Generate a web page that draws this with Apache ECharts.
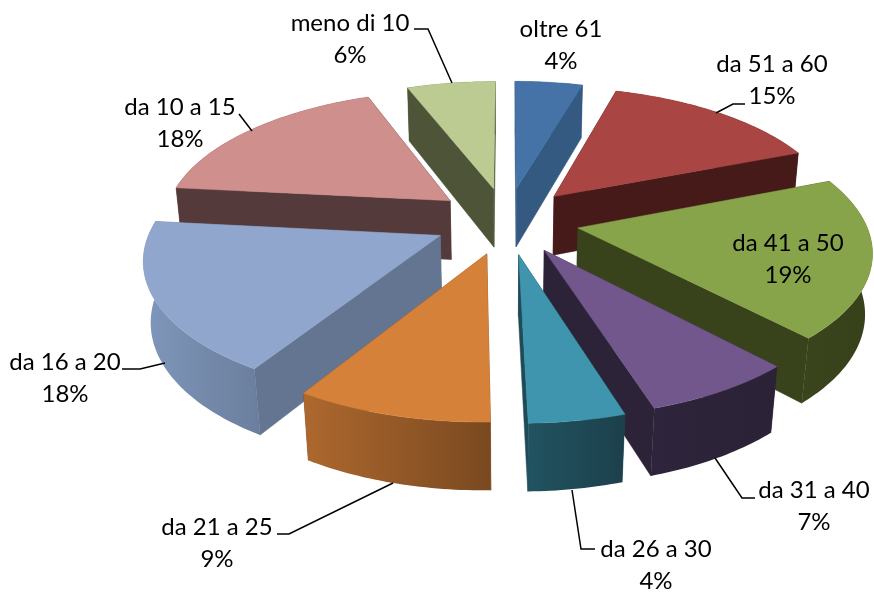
<!DOCTYPE html>
<html><head><meta charset="utf-8">
<style>html,body{margin:0;padding:0;background:#fff}#c{width:874px;height:594px}</style>
<script src="https://cdn.jsdelivr.net/npm/echarts@6/dist/echarts.min.js"></script>
</head><body><div id="c"></div>
<script>
// ---- data (slice sizes estimated from their drawn angles) ----
const categories = ['oltre 61','da 51 a 60','da 41 a 50','da 31 a 40','da 26 a 30','da 21 a 25','da 16 a 20','da 10 a 15','meno di 10'];
const percentages = [4.47,14.56,19.03,7.13,4.48,9.14,17.85,17.5,5.85];
// ---- styles ----
const topColors  = ['#4573a8','#a94543','#88a44a','#72578c','#4095ae','#d6813a','#90a6cc','#cf8f8d','#bbcb91'];
const wallColors = ['#345a82','#451a18','#38421b','#2c2339','#1f4b58','#7d4a20','#637590','#543a3b','#4d5438'];
const rimStops   = [['#345a82','#345a82'],['#451a18','#451a18'],['#3a451c','#36401a'],['#2e243b','#2b2237'],
                    ['#215360','#1c404c'],['#ad682e','#7a4920'],['#7f97bb','#6b7e9d'],['#543a3b','#543a3b'],['#4d5438','#4d5438']];
// ---- label layout ----
const labelX = [561,772,788,814,656,217,65,180,350];
const labelY = [45,80,259,506,565,543,378,123,39];
const leaders = [
  null,
  [[745,104],[733,104],[716,113]],
  null,
  [[755,498],[742,498],[715,458]],
  [[595,549],[581,549],[572,490]],
  [[277,534],[289,534],[393,483]],
  [[122,369],[140,369],[165,363]],
  [[239,114],[252,131]],
  [[414,29],[428,29],[452,83]]
];
// ---- projection of the exploded, tilted disc ----
const cam = {cx:506.5, cy:220.5, a:287, b:132, h:61, k:0.149, m:0.02, explode:0.253};
function project(X,Y,Z){
  const w = 1 + cam.k*Y + cam.m*Z;
  return [cam.cx + cam.a*X/w, cam.cy + (-cam.b*Y + cam.h*Z)/w];
}
const total = percentages.reduce((s,v)=>s+v,0);
const rad = d => d*Math.PI/180;
let acc = 0;
const spans = percentages.map(v=>{const s=acc/total*360; acc+=v; return [s,acc/total*360];});
const painterOrder = spans.map((s,i)=>i).sort((p,q)=>
  Math.cos(rad((spans[q][0]+spans[q][1])/2)) - Math.cos(rad((spans[p][0]+spans[p][1])/2)));

function renderSlice(params, api){
  const i = api.value(1);
  const [s,e] = spans[i];
  const mid = rad((s+e)/2);
  const ox = cam.explode*Math.sin(mid), oy = cam.explode*Math.cos(mid);
  const pt = (deg,r,z)=>project(ox+r*Math.sin(rad(deg)), oy+r*Math.cos(rad(deg)), z);
  const arc = z=>{const n=Math.max(4,Math.ceil(e-s)),o=[];for(let j=0;j<=n;j++)o.push(pt(s+(e-s)*j/n,1,z));return o;};
  const poly = (points,fill)=>({type:'polygon',shape:{points},style:{fill,stroke:typeof fill==='string'?fill:null,lineWidth:0.5}});
  const wall = deg=>poly([pt(deg,0,0),pt(deg,1,0),pt(deg,1,1),pt(deg,0,1)],wallColors[i]);
  const startFront = Math.sin(rad(s))<0, endFront = Math.sin(rad(e))>0;
  const children = [];
  if(!startFront) children.push(wall(s));
  if(!endFront) children.push(wall(e));
  children.push(poly(arc(0).concat(arc(1).reverse()),
    {type:'linear',x:0,y:0,x2:1,y2:0,colorStops:[{offset:0,color:rimStops[i][0]},{offset:1,color:rimStops[i][1]}]}));
  if(startFront) children.push(wall(s));
  if(endFront) children.push(wall(e));
  children.push(poly([pt(s,0,0)].concat(arc(0)),topColors[i]));
  return {type:'group',children};
}

const textFont = 'Lato, Carlito, sans-serif';
const graphics = [];
categories.forEach((c,i)=>{
  if(leaders[i]) graphics.push({type:'polyline',z:20,shape:{points:leaders[i]},style:{stroke:'#000',lineWidth:1.5,fill:null}});
  graphics.push({type:'text',z:21,x:labelX[i],y:labelY[i],
    style:{text:c+'\n'+Math.round(percentages[i])+'%',align:'center',verticalAlign:'middle',fill:'#000',
      font:'24px '+textFont,lineHeight:32}});
});

const chart = echarts.init(document.getElementById('c'),null,{renderer:'canvas'});
chart.setOption({
  animation:false,
  backgroundColor:'#fff',
  tooltip:{show:false},
  series:[{type:'custom',coordinateSystem:'none',silent:true,renderItem:renderSlice,
    data:painterOrder.map(i=>[percentages[i],i])}],
  graphic:graphics
});
</script></body></html>
